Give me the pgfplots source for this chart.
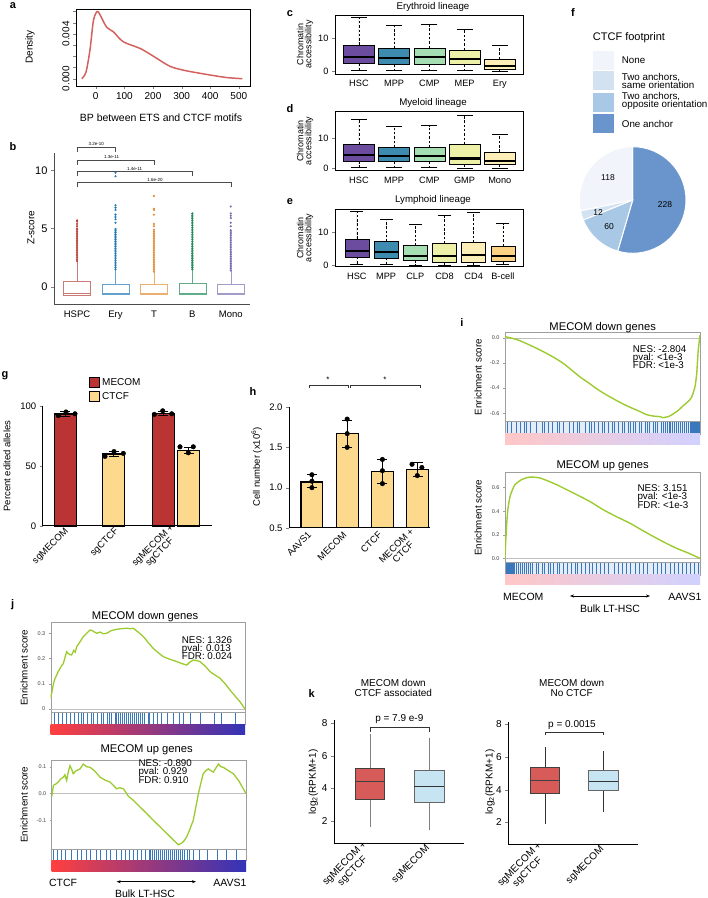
\documentclass[border=0pt]{standalone}
\usepackage{pgfplots}
\pgfplotsset{compat=1.18}
\usepgfplotslibrary{statistics}
\usetikzlibrary{arrows.meta}
\usepackage{fontspec}
\setmainfont{Liberation Sans}
\newcommand\fs[1]{\fontsize{#1}{#1}\selectfont}

\definecolor{dens}{HTML}{D3625F}
\definecolor{cH}{HTML}{B5443B}
\definecolor{cE}{HTML}{2479B5}
\definecolor{cT}{HTML}{E08E34}
\definecolor{cB}{HTML}{1E8A57}
\definecolor{cM}{HTML}{7B70B0}
\definecolor{hsc}{HTML}{6C4C9E}
\definecolor{mpp}{HTML}{3D8BAE}
\definecolor{cmp}{HTML}{A4DEB2}
\definecolor{mep}{HTML}{EDF1A7}
\definecolor{ery}{HTML}{FDEDB6}
\definecolor{bcell}{HTML}{FCD385}
\definecolor{pNone}{HTML}{F1F4FA}
\definecolor{pSame}{HTML}{D2E2F1}
\definecolor{pOpp}{HTML}{A9C8E6}
\definecolor{pOne}{HTML}{6A95CC}
\definecolor{gM}{HTML}{BB3434}
\definecolor{gC}{HTML}{FDD98D}
\definecolor{es}{HTML}{9CCB2F}
\definecolor{bc}{HTML}{3A78BD}
\definecolor{bcbg}{HTML}{E4EDF7}
\definecolor{kR}{HTML}{D65B59}
\definecolor{kB}{HTML}{C6E4F2}

\pgfplotsset{
  every axis/.append style={scale only axis, anchor=south west, /pgf/number format/assume math mode=true, major tick length=3pt, boxplot/draw direction=y},
  lin/.style={width=188pt, axis line style={line width=0.7pt}, ytick pos=left, tick align=outside, xtick style={draw=none}, tick label style={font=\fs{9.2}}, ytick={0,10}, xtick={1,...,6}, boxplot/box extend=0.88, clip=false},
  gsea/.style={xmin=0, xmax=1, xtick=\empty, axis line style={gray!75}, ytick style={gray!75, line width=0.4pt}, tick label style={font=\fs{5.5}, text=black!75}, tick align=outside, ytick pos=left, major tick length=2pt},
  bcode/.style={xmin=0, xmax=1, ymin=0, ymax=1, xtick=\empty, ytick=\empty, axis line style={gray!75}, axis on top},
}
\newcommand\bxx[7]{\addplot[fill=#1, draw=black, line width=0.6pt, boxplot prepared={draw position=#2, lower whisker=#3, lower quartile=#4, median=#5, upper quartile=#6, upper whisker=#7, whisker extend=0, every whisker/.style={dash pattern=on 2.5pt off 1.8pt}, every median/.style={line width=2.2pt}}] coordinates {};}

\begin{document}
\begin{tikzpicture}
\useasboundingbox (0,0) rectangle (708pt,898pt);

% ---------------- a ----------------
\begin{axis}[at={(76pt,812pt)}, width=174pt, height=77pt, xmin=-69, xmax=539, ymin=-0.00065, ymax=0.00622,
  xtick={0,100,200,300,400,500}, ytick={0,0.001,0.002,0.003,0.004,0.005,0.006}, yticklabels={0.000,,,,0.004,,}, scaled y ticks=false,
  tick align=outside, xtick pos=bottom, ytick pos=left, tick label style={font=\fs{10}}, yticklabel style={rotate=90, anchor=south}, axis line style={line width=0.6pt}]
\addplot[dens, line width=1.5pt, smooth] coordinates {(-49,0)(-34,0.0006)(-20,0.0026)(-8,0.0052)(5,0.006)(15,0.0057)(38,0.0046)(61,0.0042)(96,0.0033)(155,0.0027)(202,0.002)(260,0.0011)(318,0.0007)(400,0.00033)(459,0.0001)(512,0)};
\end{axis}
\node[font=\fs{11}\bfseries] at (13pt,892pt) {a};
\node[font=\fs{10}, rotate=90] at (30pt,851pt) {Density};
\node[font=\fs{10.5}] at (161pt,780pt) {BP between ETS and CTCF motifs};

% ---------------- b ----------------
\begin{axis}[at={(54pt,594pt)}, width=196pt, height=151pt, xmin=0.4, xmax=5.5, ymin=-1.49, ymax=11.5,
  axis x line*=bottom, axis y line*=left, axis line style={-, gray!60!black, line width=0.6pt}, tick align=outside,
  ytick={0,5,10}, xtick={1,2,3,4,5}, xticklabels={HSPC,Ery,T,B,Mono}, xtick style={draw=none},
  yticklabel style={font=\fs{11}}, xticklabel style={font=\fs{9.5}}, boxplot/box extend=0.7, clip=false]
\addplot[draw=cH!70, line width=0.5pt, boxplot prepared={draw position=1, lower whisker=-0.8, lower quartile=-0.72, median=-0.57, upper quartile=0.43, upper whisker=2.2, whisker extend=0}] coordinates {};
\addplot[draw=cE!70, line width=0.5pt, boxplot prepared={draw position=2, lower whisker=-0.7, lower quartile=-0.63, median=-0.55, upper quartile=0.23, upper whisker=1.5, whisker extend=0}] coordinates {};
\addplot[draw=cT!70, line width=0.5pt, boxplot prepared={draw position=3, lower whisker=-0.7, lower quartile=-0.63, median=-0.55, upper quartile=0.2, upper whisker=1.3, whisker extend=0}] coordinates {};
\addplot[draw=cB!70, line width=0.5pt, boxplot prepared={draw position=4, lower whisker=-0.7, lower quartile=-0.63, median=-0.55, upper quartile=0.3, upper whisker=1.5, whisker extend=0}] coordinates {};
\addplot[draw=cM!70, line width=0.5pt, boxplot prepared={draw position=5, lower whisker=-0.7, lower quartile=-0.63, median=-0.55, upper quartile=0.23, upper whisker=1.4, whisker extend=0}] coordinates {};
\addplot[only marks, mark=*, mark size=0.9pt, cH] table[row sep=\\, header=false, x expr=1, y index=0] {2.2\\2.35\\2.5\\2.65\\2.8\\2.95\\3.1\\3.25\\3.4\\3.55\\3.7\\3.85\\4.0\\4.15\\4.3\\4.45\\4.6\\4.75\\4.9\\5.0\\5.2\\5.4\\5.6\\5.7\\};
\addplot[only marks, mark=*, mark size=0.9pt, cE] table[row sep=\\, header=false, x expr=2, y index=0] {1.5\\1.65\\1.8\\1.95\\2.1\\2.25\\2.4\\2.55\\2.7\\2.85\\3.0\\3.15\\3.3\\3.45\\3.6\\3.75\\3.9\\4.05\\4.2\\4.35\\4.5\\4.65\\4.8\\4.95\\5.5\\5.8\\6.0\\6.2\\6.6\\6.8\\7.0\\9.5\\9.8\\};
\addplot[only marks, mark=*, mark size=0.9pt, cT] table[row sep=\\, header=false, x expr=3, y index=0] {1.3\\1.45\\1.6\\1.75\\1.9\\2.05\\2.2\\2.35\\2.5\\2.65\\2.8\\2.95\\3.1\\3.25\\3.4\\3.55\\3.7\\3.85\\4.0\\4.15\\4.3\\4.45\\4.6\\4.75\\4.9\\5.2\\5.4\\6.2\\6.6\\6.7\\7.8\\};
\addplot[only marks, mark=*, mark size=0.9pt, cB] table[row sep=\\, header=false, x expr=4, y index=0] {1.5\\1.65\\1.8\\1.95\\2.1\\2.25\\2.4\\2.55\\2.7\\2.85\\3.0\\3.15\\3.3\\3.45\\3.6\\3.75\\3.9\\4.05\\4.2\\4.35\\4.5\\4.65\\4.8\\4.95\\5.1\\5.25\\5.4\\5.55\\5.7\\5.85\\6.0\\6.15\\6.3\\};
\addplot[only marks, mark=*, mark size=0.9pt, cM] table[row sep=\\, header=false, x expr=5, y index=0] {1.4\\1.55\\1.7\\1.85\\2.0\\2.15\\2.3\\2.45\\2.6\\2.75\\2.9\\3.05\\3.2\\3.35\\3.5\\3.65\\3.8\\3.95\\4.1\\4.25\\4.4\\4.55\\4.7\\4.85\\5.2\\5.5\\5.9\\6.1\\6.3\\6.9\\};
\draw[gray!60!black, line width=0.5pt] (axis cs:1,11.6)--(axis cs:1,12.0)--(axis cs:2,12.0)--(axis cs:2,11.6);
\draw[gray!60!black, line width=0.5pt] (axis cs:1,10.5)--(axis cs:1,10.9)--(axis cs:3,10.9)--(axis cs:3,10.5);
\draw[gray!60!black, line width=0.5pt] (axis cs:1,9.5)--(axis cs:1,9.9)--(axis cs:4,9.9)--(axis cs:4,9.5);
\draw[gray!60!black, line width=0.5pt] (axis cs:1,8.57)--(axis cs:1,8.97)--(axis cs:5,8.97)--(axis cs:5,8.57);
\node[font=\fs{4.5}, anchor=south, inner sep=1pt] at (axis cs:1.5,12.0) {3.2e-10};
\node[font=\fs{4.5}, anchor=south, inner sep=1pt] at (axis cs:1.9,10.9) {1.3e-11};
\node[font=\fs{4.5}, anchor=south, inner sep=1pt] at (axis cs:2.5,9.9) {1.4e-11};
\node[font=\fs{4.5}, anchor=south, inner sep=1pt] at (axis cs:3.03,8.97) {1.6e-20};
\end{axis}
\node[font=\fs{11}\bfseries] at (13pt,751pt) {b};
\node[font=\fs{10}, rotate=90] at (31pt,670pt) {Z-score};

% ---------------- c ----------------
\begin{axis}[lin, at={(335pt,824pt)}, height=59pt, xmin=0.32, xmax=5.66, ymin=-0.9, ymax=17.1, xticklabels={HSC,MPP,CMP,MEP,Ery}]
\bxx{hsc}{1}{0.3}{2.35}{4.2}{7.95}{16.4}
\bxx{mpp}{2}{0.3}{2.0}{3.9}{6.8}{13.9}
\bxx{cmp}{3}{0.3}{2.0}{4.2}{7.0}{14.3}
\bxx{mep}{4}{0.1}{2.0}{3.7}{6.4}{12.7}
\bxx{ery}{5}{0}{0.5}{1.5}{3.6}{7.95}
\addplot[only marks, mark=-, mark size=8pt, mark options={line width=0.6pt}] coordinates {(1,16.4)(1,0.3)(2,13.9)(2,0.3)(3,14.3)(3,0.3)(4,12.7)(4,0.1)(5,7.95)(5,0)};
\end{axis}
\node[font=\fs{11}\bfseries] at (290pt,884pt) {c};
\node[font=\fs{9.7}] at (433pt,891pt) {Erythroid lineage};
\node[font=\fs{9}, rotate=90, align=center, inner sep=0pt] at (305pt,853.5pt) {Chromatin\\[-1pt]accessibility};

% ---------------- d ----------------
\begin{axis}[lin, at={(335pt,727.3pt)}, height=59pt, xmin=0.32, xmax=5.66, ymin=-0.8, ymax=18.9, xticklabels={HSC,MPP,CMP,GMP,Mono}]
\bxx{hsc}{1}{0.3}{2.4}{4.4}{8.0}{16.3}
\bxx{mpp}{2}{0.3}{2.2}{4.1}{7.0}{13.9}
\bxx{cmp}{3}{0.3}{2.2}{4.2}{7.0}{14.2}
\bxx{mep}{4}{0}{1.4}{3.3}{8.0}{17.8}
\bxx{ery}{5}{0}{1.2}{2.5}{5.5}{11.4}
\addplot[only marks, mark=-, mark size=8pt, mark options={line width=0.6pt}] coordinates {(1,16.3)(1,0.3)(2,13.9)(2,0.3)(3,14.2)(3,0.3)(4,17.8)(4,0)(5,11.4)(5,0)};
\end{axis}
\node[font=\fs{11}\bfseries] at (290pt,789.7pt) {d};
\node[font=\fs{9.7}] at (433pt,795pt) {Myeloid lineage};
\node[font=\fs{9}, rotate=90, align=center, inner sep=0pt] at (305pt,757pt) {Chromatin\\[-1pt]accessibility};

% ---------------- e ----------------
\begin{axis}[lin, at={(335pt,631.3pt)}, height=57.4pt, xmin=0.25, xmax=6.69, ymin=-0.5, ymax=17, boxplot/box extend=0.82, xticklabels={HSC,MPP,CLP,CD8,CD4,B-cell}]
\bxx{hsc}{1}{0.2}{2.5}{4.4}{8.0}{16.3}
\bxx{mpp}{2}{0.2}{2.2}{4.1}{7.1}{14.0}
\bxx{cmp}{3}{0}{1.5}{2.8}{5.9}{12.5}
\bxx{mep}{4}{0}{0.9}{2.75}{6.6}{15.3}
\bxx{ery}{5}{0}{0.9}{3.06}{6.9}{16.0}
\bxx{bcell}{6}{0.2}{1.2}{2.75}{5.8}{12.7}
\addplot[only marks, mark=-, mark size=6.5pt, mark options={line width=0.6pt}] coordinates {(1,16.3)(1,0.2)(2,14.0)(2,0.2)(3,12.5)(3,0)(4,15.3)(4,0)(5,16.0)(5,0)(6,12.7)(6,0.2)};
\end{axis}
\node[font=\fs{11}\bfseries] at (290pt,696.3pt) {e};
\node[font=\fs{9.7}] at (433pt,698pt) {Lymphoid lineage};
\node[font=\fs{9}, rotate=90, align=center, inner sep=0pt] at (305pt,660pt) {Chromatin\\[-1pt]accessibility};

% ---------------- f ----------------
\node[font=\fs{11}\bfseries] at (573pt,885pt) {f};
\node[font=\fs{11}, anchor=west, inner sep=0pt] at (592.7pt,860.3pt) {CTCF footprint};
\fill[pNone] (593.3pt,828pt) rectangle (614pt,847.3pt);
\fill[pSame] (593.3pt,808pt) rectangle (614pt,827.3pt);
\fill[pOpp] (593.3pt,786.3pt) rectangle (614pt,805pt);
\fill[pOne] (593.3pt,765pt) rectangle (614pt,784pt);
\node[font=\fs{9.8}, anchor=west, inner sep=0pt] at (621.7pt,837.7pt) {None};
\node[font=\fs{9.8}, anchor=west, inner sep=0pt, align=left] at (621.7pt,817pt) {Two anchors,\\[-2pt]same orientation};
\node[font=\fs{9.8}, anchor=west, inner sep=0pt, align=left] at (621.7pt,797pt) {Two anchors,\\[-2pt]opposite orientation};
\node[font=\fs{9.8}, anchor=west, inner sep=0pt] at (621.7pt,774pt) {One anchor};
\gdef\angA{90}
\foreach \v/\c in {228/pOne,60/pOpp,12/pSame,118/pNone}{
  \pgfmathsetmacro\angB{\angA-\v/418*360}
  \fill[\c, draw=white, line width=1pt] (632.7pt,698pt) -- ++(\angA:53.3pt) arc[start angle=\angA, end angle=\angB, radius=53.3pt] -- cycle;
  \xdef\angA{\angB}
}
\node[font=\fs{8.5}] at (608pt,720pt) {118};
\node[font=\fs{8.5}] at (665pt,693pt) {228};
\node[font=\fs{8.5}] at (598pt,685pt) {12};
\node[font=\fs{8.5}] at (609pt,671pt) {60};

% ---------------- g ----------------
\begin{axis}[at={(42.7pt,372pt)}, width=169pt, height=120pt, xmin=0, xmax=169, ymin=0, ymax=100,
  axis x line*=bottom, axis y line*=left, axis line style={-, line width=1pt}, tick align=outside,
  ytick={0,50,100}, xtick={25.3,75.3,134}, xticklabels={sgMECOM, sgCTCF, {sgMECOM +\\sgCTCF}}, xtick style={draw=none},
  yticklabel style={font=\fs{9.5}}, xticklabel style={font=\fs{9.5}, rotate=45, anchor=east, align=center, inner sep=1pt}, clip=false]
\addplot[ybar, bar width=22, bar shift=0pt, fill=gM, draw=black, line width=1.1pt] coordinates {(22.8,93.3)(120.5,94)};
\addplot[ybar, bar width=22, bar shift=0pt, fill=gC, draw=black, line width=1.1pt] coordinates {(71.1,60)(145.8,63)};
\addplot[draw=none, mark=none, error bars/.cd, y dir=both, y explicit, error bar style={draw=black, line width=0.7pt}, error mark options={rotate=90, mark size=5pt, line width=0.7pt, draw=black}] coordinates {(22.8,93.3) +- (0,2) (71.1,60) +- (0,2) (120.5,94) +- (0,1.7) (145.8,63) +- (0,2.7)};
\addplot[only marks, mark=*, mark size=2.3pt, black] coordinates {(15.6,92)(23.3,95)(32.3,93.5)(62.3,58)(71.3,62)(80.6,60.5)(111.6,93)(120,96)(129,93.5)(137.3,66)(145.6,61)(150.6,66)};
\end{axis}
\node[font=\fs{11}\bfseries] at (5pt,522pt) {g};
\fill[gM, draw=black, line width=0.6pt] (89pt,511pt) rectangle (99pt,521pt);
\fill[gC, draw=black, line width=0.6pt] (89pt,497pt) rectangle (99pt,507pt);
\node[font=\fs{10}, anchor=west, inner sep=0pt] at (102pt,516pt) {MECOM};
\node[font=\fs{10}, anchor=west, inner sep=0pt] at (102pt,502pt) {CTCF};
\node[font=\fs{9.5}, rotate=90] at (7pt,432pt) {Percent edited alleles};

% ---------------- h ----------------
\begin{axis}[at={(289pt,370pt)}, width=141pt, height=121pt, xmin=0.35, xmax=4.35, ymin=0.5, ymax=2.0,
  axis x line*=bottom, axis y line*=left, axis line style={-, line width=1pt}, tick align=outside,
  ytick={0.5,1,1.5,2}, yticklabels={0.5,1.0,1.5,2.0}, xtick={1,2,3,4}, xticklabels={AAVS1, MECOM, CTCF, {MECOM +\\CTCF}}, xtick style={draw=none},
  yticklabel style={font=\fs{9.5}}, xticklabel style={font=\fs{9.5}, rotate=45, anchor=east, align=center, inner sep=1pt, xshift=-2pt}]
\addplot[ybar, bar width=0.62, bar shift=0pt, fill=gC, draw=black, line width=1.1pt] coordinates {(1,1.07)(2,1.67)(3,1.2)(4,1.22)};
\addplot[draw=none, mark=none, error bars/.cd, y dir=both, y explicit, error bar style={draw=black, line width=0.7pt}, error mark options={rotate=90, mark size=5pt, line width=0.7pt, draw=black}] coordinates {(1,1.08) +- (0,0.08) (2,1.67) +- (0,0.17) (3,1.2) +- (0,0.15) (4,1.23) +- (0,0.085)};
\addplot[only marks, mark=*, mark size=2.3pt, black] coordinates {(1,1.16)(1,1.08)(1,1.0)(2,1.85)(2,1.67)(2,1.5)(3,1.35)(3,1.21)(3,1.05)(3.84,1.29)(4.12,1.25)(3.99,1.15)};
\end{axis}
\node[font=\fs{11}\bfseries] at (253pt,506pt) {h};
\node[font=\fs{9.5}, rotate=90] at (256.7pt,431pt) {Cell number (x10\textsuperscript{6})};
\draw[black!80, line width=0.5pt] (309.3pt,510.3pt)--(309.3pt,513pt)--(348.3pt,513pt)--(348.3pt,510.3pt);
\draw[black!80, line width=0.5pt] (350.5pt,510.3pt)--(350.5pt,513pt)--(420pt,513pt)--(420pt,510.3pt);
\node[font=\fs{8}] at (328pt,518pt) {*};
\node[font=\fs{8}] at (385pt,518pt) {*};

% ---------------- i ----------------
\begin{axis}[gsea, at={(505pt,476.3pt)}, width=195pt, height=89pt, ymin=-0.667, ymax=0.04, ytick={-0.6,-0.4,-0.2,0}, yticklabels={-0.6,-0.4,-0.2,0.0}]
\draw[gray!50, line width=0.3pt] (axis cs:0,0) -- (axis cs:1,0);
\addplot[es, line width=1.4pt, smooth, tension=0.4] coordinates {(0,0.008)(0.026,0)(0.07,-0.02)(0.128,-0.059)(0.17,-0.09)(0.214,-0.125)(0.26,-0.165)(0.3,-0.205)(0.34,-0.255)(0.385,-0.312)(0.43,-0.36)(0.47,-0.405)(0.51,-0.445)(0.556,-0.485)(0.6,-0.522)(0.641,-0.552)(0.69,-0.585)(0.726,-0.611)(0.76,-0.622)(0.795,-0.627)(0.81,-0.635)(0.84,-0.625)(0.863,-0.605)(0.89,-0.575)(0.915,-0.539)(0.94,-0.505)(0.957,-0.472)(0.974,-0.392)(0.983,-0.285)(0.991,-0.099)(1,0.02)};
\end{axis}
\begin{axis}[bcode, at={(505pt,464pt)}, width=195pt, height=12.3pt]
\fill[bcbg] (axis cs:0,0) rectangle (axis cs:1,1);
\addplot[ycomb, no marks, color=bc, line width=0.6pt] table[row sep=\\, header=false, x index=0, y expr=1] {0.01\\0.03\\0.06\\0.08\\0.1\\0.11\\0.13\\0.16\\0.19\\0.2\\0.22\\0.24\\0.27\\0.28\\0.3\\0.33\\0.35\\0.37\\0.38\\0.41\\0.43\\0.44\\0.46\\0.48\\0.5\\0.51\\0.53\\0.55\\0.56\\0.58\\0.6\\0.61\\0.63\\0.64\\0.66\\0.67\\0.69\\0.7\\0.72\\0.73\\0.74\\0.76\\0.77\\0.78\\0.8\\0.81\\0.82\\0.83\\0.84\\0.85\\0.86\\0.87\\0.88\\0.89\\0.9\\0.91\\0.92\\0.93\\0.94\\0.95\\0.955\\0.96\\0.965\\0.97\\0.975\\0.98\\0.985\\0.99\\0.995\\};
\end{axis}
\shade[left color=red!22, middle color=white, right color=blue!18] (505pt,453.7pt) rectangle (700pt,464pt);
\begin{axis}[gsea, at={(505pt,335.3pt)}, width=195pt, height=90pt, ymin=-0.037, ymax=0.727, ytick={0,0.2,0.4,0.6}, yticklabels={0.0,0.2,0.4,0.6}]
\draw[gray!50, line width=0.3pt] (axis cs:0,0) -- (axis cs:1,0);
\addplot[es, line width=1.4pt, smooth, tension=0.4] coordinates {(0,0)(0.004,0.15)(0.009,0.298)(0.015,0.42)(0.026,0.526)(0.04,0.59)(0.051,0.625)(0.07,0.652)(0.085,0.668)(0.11,0.684)(0.128,0.69)(0.155,0.688)(0.18,0.682)(0.22,0.657)(0.265,0.625)(0.32,0.58)(0.385,0.526)(0.44,0.478)(0.504,0.412)(0.57,0.355)(0.641,0.298)(0.71,0.232)(0.778,0.17)(0.83,0.125)(0.88,0.085)(0.94,0.045)(1,0)};
\end{axis}
\begin{axis}[bcode, at={(505pt,323pt)}, width=195pt, height=12.3pt]
\fill[bcbg] (axis cs:0,0) rectangle (axis cs:1,1);
\addplot[ycomb, no marks, color=bc, line width=0.6pt] table[row sep=\\, header=false, x index=0, y expr=1] {0.005\\0.01\\0.015\\0.02\\0.025\\0.03\\0.035\\0.04\\0.05\\0.06\\0.07\\0.08\\0.09\\0.1\\0.11\\0.12\\0.13\\0.14\\0.16\\0.17\\0.19\\0.2\\0.22\\0.23\\0.25\\0.27\\0.28\\0.3\\0.32\\0.34\\0.36\\0.37\\0.39\\0.41\\0.43\\0.45\\0.47\\0.49\\0.51\\0.53\\0.56\\0.58\\0.6\\0.62\\0.64\\0.67\\0.69\\0.71\\0.73\\0.76\\0.78\\0.8\\0.82\\0.85\\0.87\\0.89\\0.91\\0.93\\0.95\\0.97\\0.99\\};
\end{axis}
\shade[left color=red!22, middle color=white, right color=blue!18] (505pt,313pt) rectangle (700pt,323pt);
\node[font=\fs{11}\bfseries] at (462pt,575pt) {i};
\node[font=\fs{11.2}] at (602.7pt,570.3pt) {MECOM down genes};
\node[font=\fs{11.2}] at (602.7pt,432pt) {MECOM up genes};
\node[font=\fs{9.8}, anchor=north west, align=left, inner sep=0pt] at (632.7pt,553pt) {NES: -2.804\\[-1.5pt]pval: <1e-3\\[-1.5pt]FDR: <1e-3};
\node[font=\fs{9.8}, anchor=north west, align=left, inner sep=0pt] at (637.3pt,413.5pt) {NES: 3.151\\[-1.5pt]pval: <1e-3\\[-1.5pt]FDR: <1e-3};
\node[font=\fs{9.8}, rotate=90] at (478pt,521pt) {Enrichment score};
\node[font=\fs{9.8}, rotate=90] at (478pt,380.3pt) {Enrichment score};
\node[font=\fs{10.5}] at (523.3pt,301.3pt) {MECOM};
\node[font=\fs{10.5}] at (685pt,301.3pt) {AAVS1};
\draw[{Stealth[length=4pt]}-{Stealth[length=4pt]}, line width=0.6pt] (570pt,302pt) -- (650pt,302pt);
\node[font=\fs{10.5}] at (610pt,289.7pt) {Bulk LT-HSC};

% ---------------- j ----------------
\begin{axis}[gsea, at={(50.7pt,185.3pt)}, width=194.3pt, height=90pt, ymin=-0.0147, ymax=0.342, ytick={0,0.1,0.2,0.3}, yticklabels={0,0.1,0.2,0.3}]
\draw[gray!50, line width=0.3pt] (axis cs:0,0) -- (axis cs:1,0);
\addplot[es, line width=1.3pt] coordinates {(0,0.042)(0.007,0.07)(0.014,0.10)(0.022,0.12)(0.031,0.135)(0.04,0.15)(0.048,0.16)(0.056,0.172)(0.065,0.18)(0.072,0.2)(0.082,0.227)(0.09,0.22)(0.1,0.215)(0.108,0.214)(0.118,0.232)(0.126,0.225)(0.134,0.247)(0.15,0.265)(0.168,0.287)(0.185,0.30)(0.202,0.313)(0.215,0.31)(0.225,0.305)(0.237,0.30)(0.255,0.305)(0.27,0.298)(0.288,0.30)(0.31,0.31)(0.34,0.316)(0.36,0.318)(0.391,0.32)(0.41,0.318)(0.425,0.32)(0.45,0.305)(0.477,0.287)(0.5,0.265)(0.528,0.24)(0.55,0.225)(0.58,0.207)(0.61,0.198)(0.648,0.188)(0.675,0.18)(0.70,0.174)(0.715,0.185)(0.734,0.194)(0.75,0.192)(0.768,0.188)(0.795,0.17)(0.82,0.148)(0.845,0.135)(0.871,0.122)(0.9,0.098)(0.923,0.075)(0.95,0.05)(0.974,0.029)(1,0)};
\end{axis}
\begin{axis}[bcode, at={(50.7pt,173.7pt)}, width=194.3pt, height=11.6pt]
\addplot[ycomb, no marks, color=bc, line width=0.6pt] table[row sep=\\, header=false, x index=0, y expr=1] {0.02\\0.04\\0.06\\0.08\\0.1\\0.12\\0.14\\0.16\\0.17\\0.19\\0.21\\0.22\\0.24\\0.26\\0.27\\0.29\\0.3\\0.31\\0.33\\0.34\\0.35\\0.36\\0.37\\0.38\\0.39\\0.4\\0.41\\0.42\\0.43\\0.44\\0.45\\0.46\\0.47\\0.48\\0.5\\0.51\\0.53\\0.55\\0.57\\0.6\\0.63\\0.66\\0.68\\0.72\\0.77\\0.84\\0.88\\0.95\\};
\end{axis}
\shade[left color=red!75, middle color=white, right color=blue!65!black!80] (50.7pt,163pt) rectangle (245pt,173pt);
\begin{axis}[gsea, at={(51.7pt,48.7pt)}, width=194.3pt, height=89.3pt, ymin=-0.207, ymax=0.125, ytick={-0.1,0,0.1}, yticklabels={-0.1,0.0,0.1}]
\draw[gray!50, line width=0.3pt] (axis cs:0,0) -- (axis cs:1,0);
\addplot[es, line width=1.3pt] coordinates {(0,-0.012)(0.009,0.031)(0.02,0.035)(0.034,0.043)(0.047,0.055)(0.06,0.061)(0.068,0.07)(0.077,0.049)(0.085,0.08)(0.094,0.104)(0.103,0.09)(0.111,0.074)(0.125,0.085)(0.146,0.092)(0.163,0.11)(0.18,0.1)(0.197,0.098)(0.22,0.085)(0.249,0.061)(0.275,0.05)(0.3,0.043)(0.318,0.03)(0.334,0.018)(0.35,0.022)(0.369,0.018)(0.395,-0.01)(0.42,-0.025)(0.455,-0.05)(0.489,-0.074)(0.52,-0.097)(0.557,-0.123)(0.585,-0.143)(0.609,-0.16)(0.63,-0.175)(0.652,-0.19)(0.669,-0.184)(0.682,-0.175)(0.695,-0.16)(0.71,-0.135)(0.729,-0.098)(0.742,-0.05)(0.755,0)(0.768,0.04)(0.78,0.074)(0.793,0.085)(0.806,0.092)(0.82,0.085)(0.832,0.08)(0.845,0.095)(0.858,0.11)(0.87,0.1)(0.883,0.098)(0.91,0.085)(0.935,0.074)(0.965,0.045)(1,0)};
\end{axis}
\begin{axis}[bcode, at={(51.7pt,38pt)}, width=194.3pt, height=10.7pt]
\addplot[ycomb, no marks, color=bc, line width=0.6pt] table[row sep=\\, header=false, x index=0, y expr=1] {0.01\\0.03\\0.05\\0.07\\0.1\\0.13\\0.15\\0.18\\0.2\\0.23\\0.25\\0.28\\0.3\\0.33\\0.36\\0.38\\0.4\\0.42\\0.44\\0.46\\0.48\\0.5\\0.51\\0.52\\0.53\\0.54\\0.55\\0.56\\0.57\\0.58\\0.59\\0.6\\0.61\\0.62\\0.63\\0.64\\0.65\\0.66\\0.67\\0.68\\0.7\\0.71\\0.73\\0.76\\0.8\\0.85\\0.9\\0.95\\};
\end{axis}
\shade[left color=red!75, middle color=white, right color=blue!65!black!80] (51.7pt,26.3pt) rectangle (246pt,37pt);
\node[font=\fs{11}\bfseries] at (12.7pt,293pt) {j};
\node[font=\fs{11.2}] at (145pt,281.3pt) {MECOM down genes};
\node[font=\fs{11.2}] at (146.7pt,148pt) {MECOM up genes};
\node[font=\fs{9.8}, anchor=north west, align=left, inner sep=0pt] at (181.7pt,262pt) {NES: 1.326\\[-1.5pt]pval: 0.013\\[-1.5pt]FDR: 0.024};
\node[font=\fs{9.8}, anchor=north west, align=left, inner sep=0pt] at (138.3pt,138.5pt) {NES: -0.890\\[-1.5pt]pval: 0.929\\[-1.5pt]FDR: 0.910};
\node[font=\fs{9.8}, rotate=90] at (24pt,230.3pt) {Enrichment score};
\node[font=\fs{9.8}, rotate=90] at (24pt,93.3pt) {Enrichment score};
\node[font=\fs{10.5}] at (63pt,15.3pt) {CTCF};
\node[font=\fs{10.5}] at (230pt,15.3pt) {AAVS1};
\draw[{Stealth[length=4pt]}-{Stealth[length=4pt]}, line width=0.6pt] (116.7pt,16.3pt) -- (196pt,16.3pt);
\node[font=\fs{10.5}] at (145pt,4.7pt) {Bulk LT-HSC};

% ---------------- k ----------------
\begin{axis}[at={(334pt,54.7pt)}, width=130pt, height=123.3pt, xmin=0.39, xmax=2.59, ymin=0.61, ymax=8.2,
  axis x line*=bottom, axis y line*=left, axis line style={-, line width=0.8pt}, tick align=outside,
  ytick={2,4,6,8}, xtick={1,2}, xticklabels={{sgMECOM +\\[1pt]sgCTCF}, sgMECOM}, xtick style={draw=none},
  yticklabel style={font=\fs{10}}, xticklabel style={font=\fs{10}, rotate=45, anchor=east, align=center, inner sep=1pt}, boxplot/box extend=0.5]
\addplot[fill=kR, draw=black!75, line width=0.7pt, boxplot prepared={draw position=1, lower whisker=1.64, lower quartile=3.32, median=4.43, upper quartile=5.23, upper whisker=7.34, whisker extend=0, every whisker/.style={draw=gray}}] coordinates {};
\addplot[fill=kB, draw=gray!80!black, line width=0.7pt, boxplot prepared={draw position=2, lower whisker=1.44, lower quartile=3.12, median=4.1, upper quartile=5.09, upper whisker=7.08, whisker extend=0, every whisker/.style={draw=gray}, every median/.style={draw=black!80}}] coordinates {};
\end{axis}
\begin{axis}[at={(508.3pt,53.7pt)}, width=130pt, height=122.6pt, xmin=0.37, xmax=2.6, ymin=0.65, ymax=8.16,
  axis x line*=bottom, axis y line*=left, axis line style={-, line width=0.8pt}, tick align=outside,
  ytick={2,4,6,8}, xtick={1,2}, xticklabels={{sgMECOM +\\[1pt]sgCTCF}, sgMECOM}, xtick style={draw=none},
  yticklabel style={font=\fs{10}}, xticklabel style={font=\fs{10}, rotate=45, anchor=east, align=center, inner sep=1pt}, boxplot/box extend=0.5]
\addplot[fill=kR, draw=black!75, line width=0.7pt, boxplot prepared={draw position=1, lower whisker=1.9, lower quartile=3.76, median=4.59, upper quartile=5.35, upper whisker=6.59, whisker extend=0, every whisker/.style={draw=black!80}}] coordinates {};
\addplot[fill=kB, draw=gray!80!black, line width=0.7pt, boxplot prepared={draw position=2, lower whisker=2.65, lower quartile=3.94, median=4.51, upper quartile=5.16, upper whisker=6.37, whisker extend=0, every whisker/.style={draw=black!80}, every median/.style={draw=black!80}}] coordinates {};
\end{axis}
\node[font=\fs{11}\bfseries] at (311.7pt,204.7pt) {k};
\node[font=\fs{10}, align=center] at (393.3pt,210pt) {MECOM down\\CTCF associated};
\node[font=\fs{10}, align=center] at (571.7pt,210pt) {MECOM down\\No CTCF};
\node[font=\fs{10}, rotate=90] at (313.3pt,116pt) {log\textsubscript{2}(RPKM+1)};
\node[font=\fs{10}, rotate=90] at (490pt,116pt) {log\textsubscript{2}(RPKM+1)};
\draw[black!80, line width=0.6pt] (370pt,166.3pt)--(370pt,170.7pt)--(429pt,170.7pt)--(429pt,166.3pt);
\draw[black!80, line width=0.6pt] (545pt,163pt)--(545pt,165.7pt)--(603.3pt,165.7pt)--(603.3pt,163pt);
\node[font=\fs{10}] at (399.3pt,178.7pt) {p = 7.9 e-9};
\node[font=\fs{10}] at (572pt,172.7pt) {p = 0.0015};
\end{tikzpicture}
\end{document}
